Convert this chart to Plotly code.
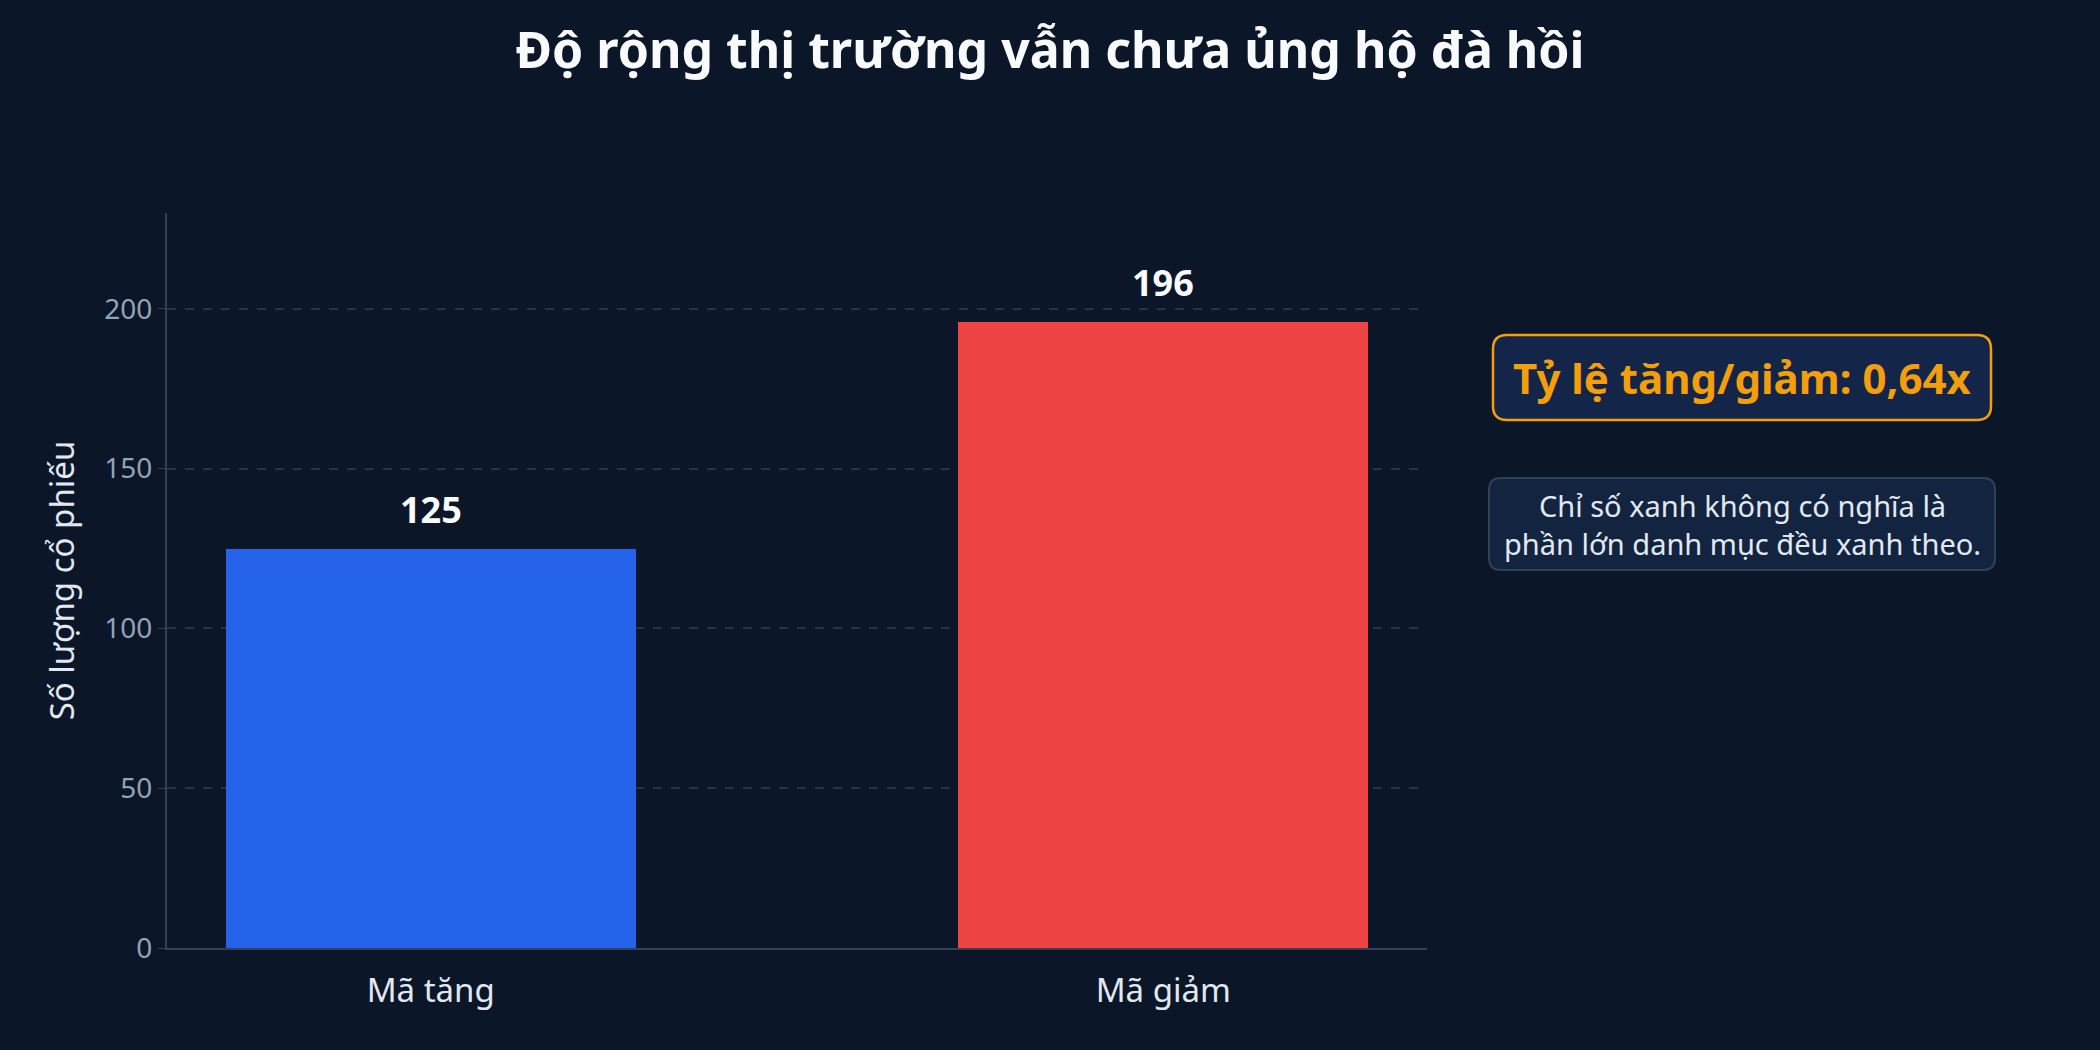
import plotly.graph_objects as go

# data
categories = ['Mã tăng', 'Mã giảm']
counts = [125, 196]
bar_colors = ['#2563eb', '#ef4444']
ratio_text = 'Tỷ lệ tăng/giảm: 0,64x'
note_lines = ['Chỉ số xanh không có nghĩa là', 'phần lớn danh mục đều xanh theo.']
y_ticks = [0, 50, 100, 150, 200]

W, H = 2100, 1050
L, R, T, B = 167, 673, 213, 102
BG = '#0b1628'
FONT = 'Noto Sans'


def px_to_paper(x, y):
    # pixel in page -> paper coords of the plot area
    pw, ph = W - L - R, H - T - B
    return (x - L) / pw, (H - B - y) / ph


def rounded_rect(x0, y0, x1, y1, r):
    # path for a rounded box, given in page pixels
    def p(x, y):
        px, py = px_to_paper(x, y)
        return f'{px:.5f},{py:.5f}'
    pts = [
        'M ' + p(x0 + r, y0),
        'L ' + p(x1 - r, y0),
        'Q ' + p(x1, y0) + ' ' + p(x1, y0 + r),
        'L ' + p(x1, y1 - r),
        'Q ' + p(x1, y1) + ' ' + p(x1 - r, y1),
        'L ' + p(x0 + r, y1),
        'Q ' + p(x0, y1) + ' ' + p(x0, y1 - r),
        'L ' + p(x0, y0 + r),
        'Q ' + p(x0, y0) + ' ' + p(x0 + r, y0),
    ]
    return ' '.join(pts) + ' Z'


fig = go.Figure()
fig.add_trace(go.Bar(
    x=categories,
    y=counts,
    marker=dict(color=bar_colors, line=dict(width=0)),
    width=0.56,
    hoverinfo='skip',
))

# value labels above bars
for c, v in zip(categories, counts):
    fig.add_annotation(
        x=c, y=v, text=f'<b>{v}</b>', showarrow=False,
        yanchor='bottom', yshift=13,
        font=dict(family=FONT, size=36, color='#f8fafc'),
    )

# ratio box
fig.add_shape(type='path', xref='paper', yref='paper',
              path=rounded_rect(1493, 335, 1991, 420, 14),
              fillcolor='#13264a', line=dict(color='#f59e0b', width=2.5), layer='below')
cx, cy = px_to_paper(1742, 377)
fig.add_annotation(
    x=cx, y=cy, xref='paper', yref='paper', text=f'<b>{ratio_text}</b>',
    showarrow=False, xanchor='center', yanchor='middle',
    font=dict(family=FONT, size=42, color='#f59e0b'),
)

# note box
fig.add_shape(type='path', xref='paper', yref='paper',
              path=rounded_rect(1489, 478, 1995, 570, 12),
              fillcolor='#132441', line=dict(color='#334155', width=2), layer='below')
cx, cy = px_to_paper(1742, 524)
fig.add_annotation(
    x=cx, y=cy, xref='paper', yref='paper', text='<br>'.join(note_lines),
    showarrow=False, xanchor='center', yanchor='middle', align='center',
    font=dict(family=FONT, size=29, color='#e2e8f0'),
)

fig.update_layout(
    width=W, height=H,
    paper_bgcolor=BG, plot_bgcolor=BG,
    margin=dict(l=L, r=R, t=T, b=B),
    font=dict(family=FONT, color='#e2e8f0'),
    title=dict(
        text='<b>Độ rộng thị trường vẫn chưa ủng hộ đà hồi</b>',
        x=0.5, xanchor='center', y=1 - 50 / H, yanchor='middle',
        font=dict(family=FONT, size=50, color='#f8fafc'),
    ),
    showlegend=False,
    bargap=0,
)
fig.update_xaxes(
    range=[-0.36, 1.36],
    showline=True, linecolor='#334155', linewidth=2,
    showgrid=False, ticks='', zeroline=False,
    tickfont=dict(family=FONT, size=33, color='#e2e8f0'),
    ticklabelstandoff=12,
)
fig.update_yaxes(
    range=[0, 230],
    tickvals=y_ticks,
    showline=True, linecolor='#334155', linewidth=2,
    showgrid=True, gridcolor='#263345', griddash='dash', gridwidth=1.5,
    zeroline=False,
    ticks='outside', ticklen=7, tickcolor='#334155',
    tickfont=dict(family=FONT, size=28, color='#94a3b8'),
    title=dict(text='Số lượng cổ phiếu', font=dict(family=FONT, size=33, color='#e2e8f0'),
               standoff=20),
)

fig.write_html(
    'out.html',
    config={'displayModeBar': False},
    post_script="document.body.style.margin='0';document.body.style.overflow='hidden';",
)
